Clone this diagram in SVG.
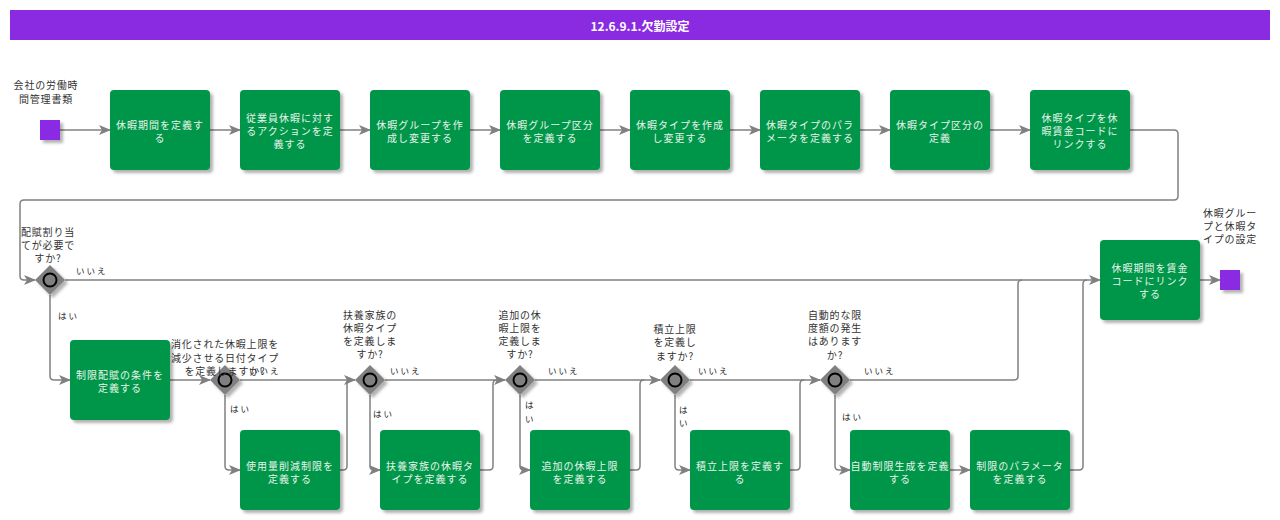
<svg xmlns="http://www.w3.org/2000/svg" width="1280" height="520" viewBox="0 0 1280 520">
<defs>
<filter id="sh" x="-20%" y="-20%" width="150%" height="150%"><feDropShadow dx="3" dy="3" stdDeviation="1.5" flood-color="#000" flood-opacity="0.3"/></filter>
<marker id="ar" markerWidth="12" markerHeight="10" refX="11" refY="5" orient="auto" markerUnits="userSpaceOnUse"><path d="M0,0 L12,5 L0,10 L3,5 Z" fill="#808080"/></marker>
<style>
.n{fill:#009649;filter:url(#sh)}
.nt{font-family:"Noto Sans CJK JP","Noto Sans",sans-serif;font-size:10px;letter-spacing:1px;fill:#e6f4ea;text-anchor:middle;dominant-baseline:central}
.lb{font-family:"Noto Sans CJK JP","Noto Sans",sans-serif;font-size:10px;letter-spacing:0.8px;fill:#333;text-anchor:middle;dominant-baseline:central}
.an{font-family:"Noto Sans CJK JP","Noto Sans",sans-serif;font-size:8.5px;letter-spacing:2px;fill:#222;dominant-baseline:central}
.c{fill:none;stroke:#808080;stroke-width:1.5;stroke-linejoin:round}
.ca{fill:none;stroke:#808080;stroke-width:1.5;stroke-linejoin:round;marker-end:url(#ar)}
.gw{fill:#808080;filter:url(#sh)}
.gc{fill:#808080;stroke:#000;stroke-width:2}
.ev{fill:#8a2be2;filter:url(#sh)}
</style>
</defs>
<rect width="1280" height="520" fill="#fff"/>
<g id="title">
<rect x="10" y="10" width="1260" height="30" fill="#8a2be2"/>
<text x="640" y="25" font-family="'Noto Sans CJK JP','Noto Sans',sans-serif" font-size="12" font-weight="bold" fill="#fff" text-anchor="middle" dominant-baseline="central">12.6.9.1.欠勤設定</text>
</g>
<g id="connectors">
<path class="ca" d="M60,130 H110"/>
<path class="ca" d="M210,130 H240"/>
<path class="ca" d="M340,130 H370"/>
<path class="ca" d="M470,130 H500"/>
<path class="ca" d="M600,130 H630"/>
<path class="ca" d="M730,130 H760"/>
<path class="ca" d="M860,130 H890"/>
<path class="ca" d="M990,130 H1030"/>
<path class="ca" d="M1130,130 H1174 Q1178,130 1178,134 V196 Q1178,200 1174,200 H24 Q20,200 20,204 V276 Q20,280 24,280 H35"/>
<path class="ca" d="M65,280 H1100"/>
<path class="ca" d="M50,295 V376 Q50,380 54,380 H70"/>
<path class="ca" d="M170,380 H210"/>
<path class="ca" d="M225,395 V466 Q225,470 229,470 H240"/>
<path class="ca" d="M240,380 H355"/>
<path class="c" d="M340,470 H343 Q347,470 347,466 V384 Q347,380 351,380"/>
<path class="ca" d="M370,395 V466 Q370,470 374,470 H380"/>
<path class="ca" d="M385,380 H505"/>
<path class="c" d="M480,470 H489 Q493,470 493,466 V384 Q493,380 497,380"/>
<path class="ca" d="M520,395 V466 Q520,470 524,470 H530"/>
<path class="ca" d="M535,380 H660"/>
<path class="c" d="M630,470 H636 Q640,470 640,466 V384 Q640,380 644,380"/>
<path class="ca" d="M675,395 V466 Q675,470 679,470 H690"/>
<path class="ca" d="M690,380 H820"/>
<path class="c" d="M790,470 H796 Q800,470 800,466 V384 Q800,380 804,380"/>
<path class="ca" d="M835,395 V466 Q835,470 839,470 H850"/>
<path class="c" d="M850,380 H1014 Q1018,380 1018,376 V284 Q1018,280 1022,280"/>
<path class="ca" d="M950,470 H970"/>
<path class="c" d="M1070,470 H1079 Q1083,470 1083,466 V284 Q1083,280 1087,280"/>
<path class="ca" d="M1200,280 H1220"/>
</g>
<g id="start">
<rect class="ev" x="40" y="120" width="20" height="20"/>
<text class="lb" x="46" y="84">会社の労働時</text>
<text class="lb" x="46" y="98">間管理書類</text>
</g>
<g id="n1"><rect class="n" x="110" y="90" width="100" height="80" rx="4"/><text class="nt" x="160" y="124">休暇期間を定義す</text><text class="nt" x="160" y="137">る</text></g>
<g id="n2"><rect class="n" x="240" y="90" width="100" height="80" rx="4"/><text class="nt" x="290" y="117">従業員休暇に対す</text><text class="nt" x="290" y="130">るアクションを定</text><text class="nt" x="290" y="143">義する</text></g>
<g id="n3"><rect class="n" x="370" y="90" width="100" height="80" rx="4"/><text class="nt" x="420" y="124">休暇グループを作</text><text class="nt" x="420" y="137">成し変更する</text></g>
<g id="n4"><rect class="n" x="500" y="90" width="100" height="80" rx="4"/><text class="nt" x="550" y="124">休暇グループ区分</text><text class="nt" x="550" y="137">を定義する</text></g>
<g id="n5"><rect class="n" x="630" y="90" width="100" height="80" rx="4"/><text class="nt" x="680" y="124">休暇タイプを作成</text><text class="nt" x="680" y="137">し変更する</text></g>
<g id="n6"><rect class="n" x="760" y="90" width="100" height="80" rx="4"/><text class="nt" x="810" y="124">休暇タイプのパラ</text><text class="nt" x="810" y="137">メータを定義する</text></g>
<g id="n7"><rect class="n" x="890" y="90" width="100" height="80" rx="4"/><text class="nt" x="940" y="124">休暇タイプ区分の</text><text class="nt" x="940" y="137">定義</text></g>
<g id="n8"><rect class="n" x="1030" y="90" width="100" height="80" rx="4"/><text class="nt" x="1080" y="117">休暇タイプを休</text><text class="nt" x="1080" y="130">暇賃金コードに</text><text class="nt" x="1080" y="143">リンクする</text></g>
<g id="g1"><path class="gw" d="M50,265 L65,280 L50,295 L35,280 Z"/><circle class="gc" cx="50" cy="280" r="6.5"/>
<text class="lb" x="48" y="231">配賦割り当</text><text class="lb" x="48" y="244">てが必要で</text><text class="lb" x="48" y="257">すか?</text>
<text class="an" x="76" y="270">いいえ</text><text class="an" x="58" y="315">はい</text></g>
<g id="n9"><rect class="n" x="70" y="340" width="100" height="80" rx="4"/><text class="nt" x="120" y="374">制限配賦の条件を</text><text class="nt" x="120" y="387">定義する</text></g>
<g id="g2"><path class="gw" d="M225,365 L240,380 L225,395 L210,380 Z"/><circle class="gc" cx="225" cy="380" r="6.5"/>
<text class="lb" x="225" y="343">消化された休暇上限を</text><text class="lb" x="225" y="357">減少させる日付タイプ</text><text class="lb" x="225" y="370">を定義しますか?</text>
<text class="an" x="249" y="370">いいえ</text><text class="an" x="230" y="408">はい</text></g>
<g id="n10"><rect class="n" x="240" y="430" width="100" height="80" rx="4"/><text class="nt" x="290" y="465">使用量削減制限を</text><text class="nt" x="290" y="478">定義する</text></g>
<g id="g3"><path class="gw" d="M370,365 L385,380 L370,395 L355,380 Z"/><circle class="gc" cx="370" cy="380" r="6.5"/>
<text class="lb" x="370" y="314">扶養家族の</text><text class="lb" x="370" y="327">休暇タイプ</text><text class="lb" x="370" y="340">を定義しま</text><text class="lb" x="370" y="353">すか?</text>
<text class="an" x="390" y="370">いいえ</text><text class="an" x="373" y="413">はい</text></g>
<g id="n11"><rect class="n" x="380" y="430" width="100" height="80" rx="4"/><text class="nt" x="430" y="465">扶養家族の休暇タ</text><text class="nt" x="430" y="478">イプを定義する</text></g>
<g id="g4"><path class="gw" d="M520,365 L535,380 L520,395 L505,380 Z"/><circle class="gc" cx="520" cy="380" r="6.5"/>
<text class="lb" x="520" y="314">追加の休</text><text class="lb" x="520" y="327">暇上限を</text><text class="lb" x="520" y="340">定義しま</text><text class="lb" x="520" y="353">すか?</text>
<text class="an" x="548" y="370">いいえ</text><text class="an" x="525" y="404">は</text><text class="an" x="525" y="418">い</text></g>
<g id="n12"><rect class="n" x="530" y="430" width="100" height="80" rx="4"/><text class="nt" x="580" y="465">追加の休暇上限</text><text class="nt" x="580" y="478">を定義する</text></g>
<g id="g5"><path class="gw" d="M675,365 L690,380 L675,395 L660,380 Z"/><circle class="gc" cx="675" cy="380" r="6.5"/>
<text class="lb" x="675" y="328">積立上限</text><text class="lb" x="675" y="341">を定義し</text><text class="lb" x="675" y="355">ますか?</text>
<text class="an" x="698" y="370">いいえ</text><text class="an" x="679" y="409">は</text><text class="an" x="679" y="422">い</text></g>
<g id="n13"><rect class="n" x="690" y="430" width="100" height="80" rx="4"/><text class="nt" x="740" y="465">積立上限を定義す</text><text class="nt" x="740" y="478">る</text></g>
<g id="g6"><path class="gw" d="M835,365 L850,380 L835,395 L820,380 Z"/><circle class="gc" cx="835" cy="380" r="6.5"/>
<text class="lb" x="835" y="314">自動的な限</text><text class="lb" x="835" y="327">度額の発生</text><text class="lb" x="835" y="340">はあります</text><text class="lb" x="835" y="354">か?</text>
<text class="an" x="864" y="370">いいえ</text><text class="an" x="842" y="416">はい</text></g>
<g id="n14"><rect class="n" x="850" y="430" width="100" height="80" rx="4"/><text class="nt" x="900" y="465">自動制限生成を定義</text><text class="nt" x="900" y="478">する</text></g>
<g id="n15"><rect class="n" x="970" y="430" width="100" height="80" rx="4"/><text class="nt" x="1020" y="465">制限のパラメータ</text><text class="nt" x="1020" y="478">を定義する</text></g>
<g id="n16"><rect class="n" x="1100" y="240" width="100" height="80" rx="4"/><text class="nt" x="1150" y="267">休暇期間を賃金</text><text class="nt" x="1150" y="280">コードにリンク</text><text class="nt" x="1150" y="293">する</text></g>
<g id="end">
<rect class="ev" x="1220" y="270" width="20" height="20"/>
<text class="lb" x="1230" y="212">休暇グルー</text><text class="lb" x="1230" y="225">プと休暇タ</text><text class="lb" x="1230" y="238">イプの設定</text>
</g>
</svg>
